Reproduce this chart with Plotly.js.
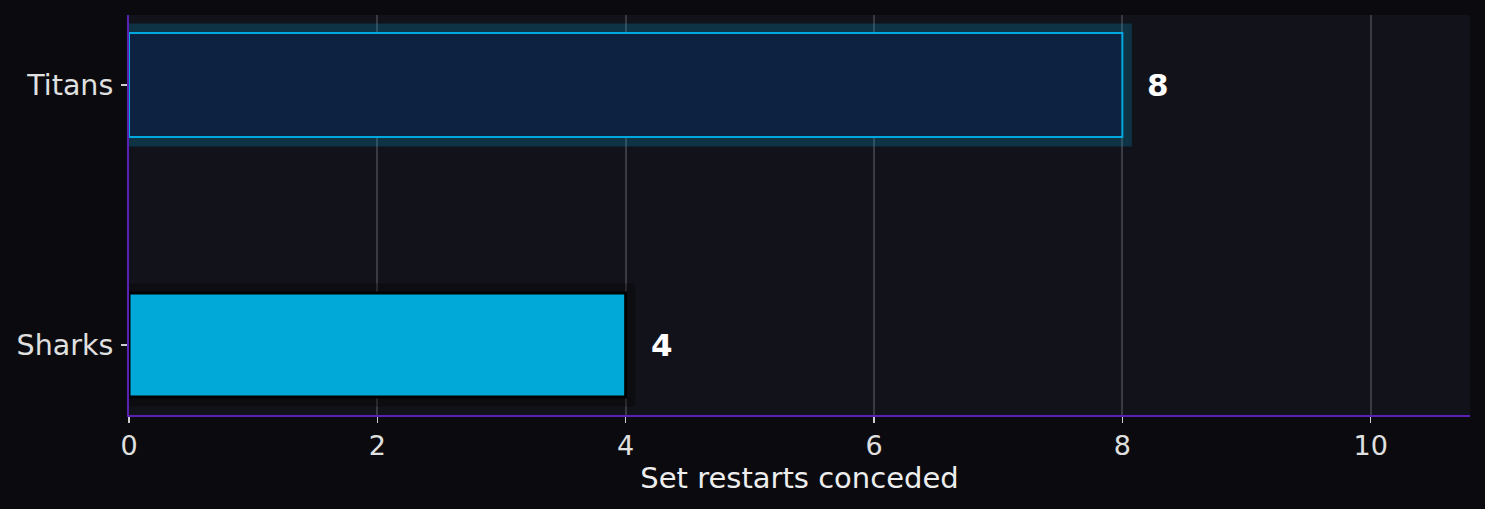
<!DOCTYPE html>
<html>
<head>
<meta charset="utf-8">
<script src="https://cdn.plot.ly/plotly-3.0.1.min.js"></script>
<style>html,body{margin:0;padding:0;background:#0b0b0f;}#chart{width:1485px;height:509px;}</style>
</head>
<body>
<div id="chart"></div>
<script>
const teams = ['Sharks', 'Titans'];
const restarts = [4, 8];
const labelTexts = ['4', '8'];
const xTickValues = [0, 2, 4, 6, 8, 10];

const barFill = ['#00a9d8', '#0d2240'];
const barEdge = ['#000000', '#00a8e0'];
const barEdgeWidth = [3, 2];
const haloFill = ['rgba(0,0,0,0.32)', 'rgba(0,168,224,0.22)'];

const halo = {
  type: 'bar', orientation: 'h', y: teams, x: restarts, width: 0.4,
  marker: {color: haloFill, line: {color: haloFill, width: 19}},
  hoverinfo: 'skip', showlegend: false
};
const bars = {
  type: 'bar', orientation: 'h', y: teams, x: restarts, width: 0.4,
  marker: {color: barFill, line: {color: barEdge, width: barEdgeWidth}},
  hoverinfo: 'skip', showlegend: false
};

const annotations = teams.map((t, i) => ({
  x: restarts[i], y: t, xref: 'x', yref: 'y', text: labelTexts[i],
  showarrow: false, xanchor: 'left', yanchor: 'middle', xshift: 23,
  font: {family: 'DejaVu Sans', size: 31, color: '#ffffff', weight: 'bold'}
}));

const layout = {
  width: 1485, height: 509,
  paper_bgcolor: '#0b0b0f', plot_bgcolor: '#12121a',
  margin: {l: 129, r: 15, t: 15, b: 94},
  barmode: 'overlay',
  font: {family: 'DejaVu Sans', color: '#e0e0e0'},
  xaxis: {
    range: [0, 10.8], tickvals: xTickValues, ticktext: xTickValues.map(String),
    showgrid: true, gridcolor: '#3a3a42', gridwidth: 2,
    zeroline: false, showline: true, linecolor: '#5b21b6', linewidth: 2,
    ticks: 'outside', ticklen: 6, tickcolor: '#cccccc', tickwidth: 1.5,
    tickfont: {family: 'DejaVu Sans', size: 27, color: '#e0e0e0'},
    title: {text: 'Set restarts conceded', font: {family: 'DejaVu Sans', size: 29, color: '#eeeeee'}, standoff: 6}
  },
  yaxis: {
    type: 'category', categoryorder: 'array', categoryarray: teams,
    range: [-0.269, 1.269], showgrid: false, zeroline: false,
    showline: true, linecolor: '#5b21b6', linewidth: 2,
    ticks: 'outside', ticklen: 6, tickcolor: '#cccccc', tickwidth: 1.5,
    ticklabelstandoff: 2,
    tickfont: {family: 'DejaVu Sans', size: 28.5, color: '#e0e0e0'}
  },
  annotations: annotations
};

Plotly.newPlot('chart', [halo, bars], layout, {staticPlot: true, displayModeBar: false});
</script>
</body>
</html>
